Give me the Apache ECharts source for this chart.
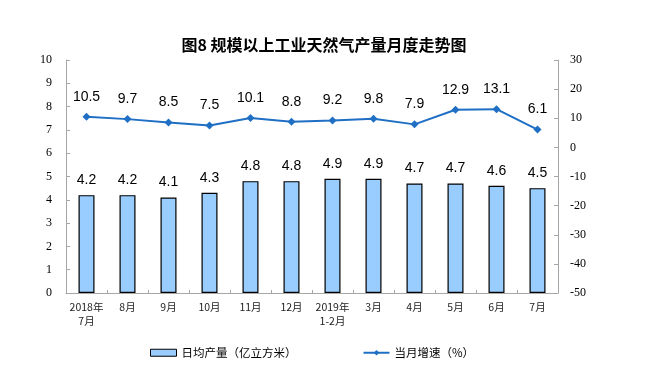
<!DOCTYPE html>
<html><head><meta charset="utf-8">
<script src="https://cdn.jsdelivr.net/npm/echarts@6/dist/echarts.min.js"></script>
<style>html,body{margin:0;padding:0;background:#fff}#c{width:648px;height:381px}</style>
</head><body><div id="c"></div>
<script>
const categories = ['2018年\n7月','8月','9月','10月','11月','12月','2019年\n1-2月','3月','4月','5月','6月','7月'];
const dailyOutput = [4.2,4.2,4.1,4.3,4.8,4.8,4.9,4.9,4.7,4.7,4.6,4.5];
const growthRate = [10.5,9.7,8.5,7.5,10.1,8.8,9.2,9.8,7.9,12.9,13.1,6.1];
const chart = echarts.init(document.getElementById('c'));
const axisLine = {show:true, lineStyle:{color:'#a6a6a6', width:1}};
chart.setOption({
  animation:false,
  title:{text:'图8 规模以上工业天然气产量月度走势图', left:'center', top:32,
    textStyle:{fontFamily:'Noto Sans CJK SC', fontSize:16, fontWeight:'bold', color:'#000'}},
  grid:{left:66, right:90, top:60, bottom:88},
  legend:{left:145, top:342, itemGap:66, itemWidth:26, itemHeight:7, itemStyle:{borderWidth:1},
    textStyle:{fontFamily:'Noto Sans CJK SC', fontSize:11.5, color:'#000'},
    data:[{name:'日均产量（亿立方米）', icon:'rect'}, {name:'当月增速（%）'}]},
  xAxis:{type:'category', data:categories, axisLine:axisLine,
    axisTick:{show:true, inside:true, length:3, lineStyle:{color:'#a6a6a6'}},
    axisLabel:{fontFamily:'Noto Sans CJK SC', fontSize:10.5, color:'#222', margin:7, lineHeight:14, interval:0}},
  yAxis:[
    {type:'value', min:0, max:10, interval:1, splitLine:{show:false}, axisLine:axisLine,
      axisTick:{show:true, inside:true, length:4, lineStyle:{color:'#a6a6a6'}},
      axisLabel:{fontFamily:'Liberation Serif', fontSize:12, color:'#000', margin:14}},
    {type:'value', min:-50, max:30, interval:10, splitLine:{show:false}, axisLine:axisLine,
      axisTick:{show:true, inside:true, length:4, lineStyle:{color:'#a6a6a6'}},
      axisLabel:{fontFamily:'Liberation Serif', fontSize:12, color:'#000', margin:12}}
  ],
  series:[
    {name:'日均产量（亿立方米）', type:'bar', data:dailyOutput, barWidth:16, yAxisIndex:0,
      itemStyle:{color:'#99ccff', borderColor:'#000', borderWidth:1.2},
      label:{show:true, position:'top', distance:8, fontFamily:'Liberation Sans', fontSize:14, color:'#000'}},
    {name:'当月增速（%）', type:'line', data:growthRate, yAxisIndex:1,
      symbol:'diamond', symbolSize:8, lineStyle:{color:'#1f6fc5', width:2},
      itemStyle:{color:'#1f6fc5'},
      label:{show:true, position:'top', distance:9, fontFamily:'Liberation Sans', fontSize:14, color:'#000'}}
  ]
});
</script></body></html>
